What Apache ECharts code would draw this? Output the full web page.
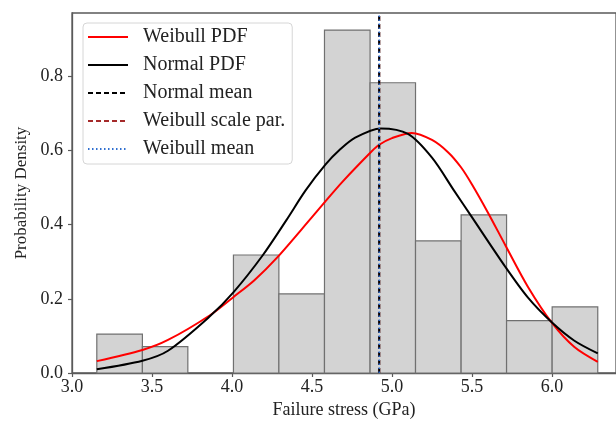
<!DOCTYPE html>
<html>
<head>
<meta charset="utf-8">
<script src="https://cdn.jsdelivr.net/npm/echarts@6/dist/echarts.min.js"></script>
<style>
html,body{margin:0;padding:0;background:#fff;}
#chart{width:616px;height:427px;}
</style>
</head>
<body>
<div id="chart"></div>
<script>
// Histogram bins (edges) and density heights
const binEdges = [3.155, 3.440, 3.724, 4.009, 4.293, 4.578, 4.863, 5.147, 5.432, 5.716, 6.001, 6.286];
const densities = [0.105, 0.071, 0, 0.318, 0.213, 0.924, 0.782, 0.356, 0.426, 0.141, 0.178];

// Normal PDF curve
const normalX = [3.155, 3.44, 3.60, 3.86, 4.01, 4.19, 4.34, 4.46, 4.585, 4.67, 4.77, 4.93, 5.10, 5.25, 5.39, 5.49, 5.71, 5.85, 6.00, 6.14, 6.286];
const normalY = [0.010, 0.033, 0.060, 0.152, 0.218, 0.316, 0.412, 0.492, 0.562, 0.600, 0.634, 0.659, 0.644, 0.580, 0.490, 0.426, 0.285, 0.203, 0.136, 0.087, 0.053];

// Weibull PDF curve
const weibullX = [3.155, 3.44, 3.60, 3.86, 4.01, 4.14, 4.28, 4.50, 4.585, 4.69, 4.875, 4.92, 5.00, 5.124, 5.25, 5.35, 5.43, 5.50, 5.60, 5.71, 5.85, 6.00, 6.14, 6.286];
const weibullY = [0.032, 0.062, 0.089, 0.155, 0.205, 0.250, 0.310, 0.420, 0.463, 0.515, 0.598, 0.615, 0.633, 0.647, 0.628, 0.595, 0.555, 0.508, 0.432, 0.343, 0.232, 0.135, 0.070, 0.030];

// Vertical reference lines
const normalMean = 4.92;
const weibullScale = 4.92;
const weibullMean = 4.92;

// Axis ticks
const xTicks = [3.0, 3.5, 4.0, 4.5, 5.0, 5.5, 6.0];
const yTicks = [0.0, 0.2, 0.4, 0.6, 0.8];
const xMin = 3.0, xMax = 6.4, yMin = 0, yMax = 0.97;

const serif = '"Liberation Serif", "DejaVu Serif", serif';

const histData = densities.map((h, i) => [binEdges[i], binEdges[i + 1], h]);
const pairs = (xs, ys) => xs.map((x, i) => [x, ys[i]]);
const vline = x => [[x, yMin], [x, yMax]];

const chart = echarts.init(document.getElementById('chart'), null, {renderer: 'canvas'});
chart.setOption({
  animation: false,
  backgroundColor: '#fff',
  grid: {left: 72, top: 13, width: 546.4, height: 360, show: true, borderColor: '#5a5a5a', borderWidth: 1.3, backgroundColor: 'transparent'},
  xAxis: {
    type: 'value', min: xMin, max: xMax,
    name: 'Failure stress (GPa)', nameLocation: 'middle', nameGap: 26,
    nameTextStyle: {fontFamily: serif, fontSize: 18, color: '#222'},
    axisLine: {lineStyle: {color: '#5a5a5a', width: 1.3}},
    axisTick: {show: true, length: 4, lineStyle: {color: '#5a5a5a', width: 1.2}, customValues: xTicks},
    axisLabel: {fontFamily: serif, fontSize: 18, color: '#222', margin: 5, customValues: xTicks, formatter: v => v.toFixed(1)},
    splitLine: {show: false}
  },
  yAxis: {
    type: 'value', min: yMin, max: yMax,
    name: 'Probability Density', nameLocation: 'middle', nameGap: 42,
    nameTextStyle: {fontFamily: serif, fontSize: 17, color: '#222'},
    axisLine: {show: true, lineStyle: {color: '#5a5a5a', width: 1.3}},
    axisTick: {show: true, length: 4, lineStyle: {color: '#5a5a5a', width: 1.2}, customValues: yTicks},
    axisLabel: {fontFamily: serif, fontSize: 18, color: '#222', margin: 9, customValues: yTicks, formatter: v => v.toFixed(1)},
    splitLine: {show: false}
  },
  legend: {
    orient: 'vertical', left: 83, top: 23,
    itemWidth: 40, itemHeight: 18, itemGap: 8,
    padding: [4, 7, 5, 4],
    backgroundColor: '#fff', borderColor: '#d6d6d6', borderWidth: 1, borderRadius: 4,
    itemStyle: {opacity: 0},
    textStyle: {fontFamily: serif, fontSize: 20, color: '#222', padding: [0, 0, 0, 10]},
    data: ['Weibull PDF', 'Normal PDF', 'Normal mean', 'Weibull scale par.', 'Weibull mean']
  },
  series: [
    {
      type: 'custom', name: 'hist', z: 1,
      encode: {x: [0, 1], y: 2},
      data: histData,
      renderItem: (params, api) => {
        const h = api.value(2);
        if (h <= 0) return null;
        const p0 = api.coord([api.value(0), h]);
        const p1 = api.coord([api.value(1), 0]);
        return {type: 'rect', shape: {x: p0[0], y: p0[1], width: p1[0] - p0[0], height: p1[1] - p0[1]},
          style: {fill: '#d3d3d3', stroke: '#707070', lineWidth: 1.2}};
      }
    },
    {type: 'line', name: 'Weibull PDF', data: pairs(weibullX, weibullY), symbol: 'none', smooth: 0.3, z: 3,
      lineStyle: {color: '#ff0000', width: 2}, itemStyle: {color: '#ff0000'}},
    {type: 'line', name: 'Normal PDF', data: pairs(normalX, normalY), symbol: 'none', smooth: 0.3, z: 3,
      lineStyle: {color: '#000000', width: 2}, itemStyle: {color: '#000000'}},
    {type: 'line', name: 'Normal mean', data: vline(normalMean), symbol: 'none', z: 4,
      lineStyle: {color: '#000000', width: 2, type: [5, 3]}, itemStyle: {color: '#000000'}},
    {type: 'line', name: 'Weibull scale par.', data: vline(weibullScale), symbol: 'none', z: 3,
      lineStyle: {color: '#a52a2a', width: 2, type: [5, 3]}, itemStyle: {color: '#a52a2a'}},
    {type: 'line', name: 'Weibull mean', data: vline(weibullMean), symbol: 'none', z: 5,
      lineStyle: {color: '#2f6fd0', width: 1.6, type: [1.5, 2.5]}, itemStyle: {color: '#2f6fd0'}}
  ]
});
</script>
</body>
</html>
